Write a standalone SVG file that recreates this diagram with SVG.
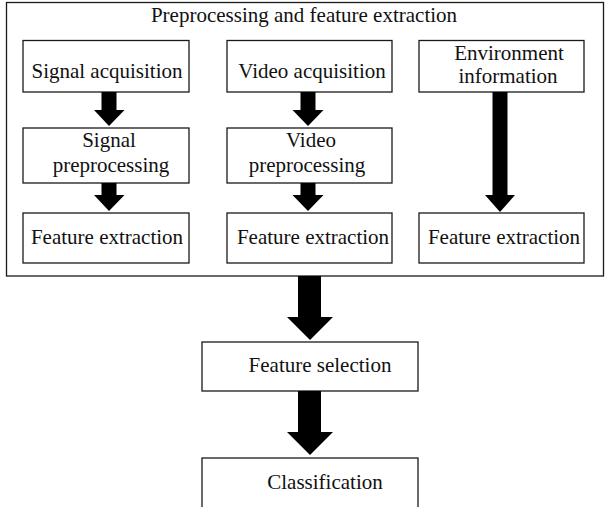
<svg xmlns="http://www.w3.org/2000/svg" width="606" height="507" viewBox="0 0 606 507">
<style>
.box{fill:#fff;stroke:#1a1a1a;stroke-width:1.3}
.t{font-family:"Liberation Serif","Times New Roman",serif;font-size:21px;fill:#111;text-anchor:middle}
.arr{fill:#000}
</style>
<rect width="606" height="507" fill="#fff"/>
<g id="group-preprocessing">
<rect class="box" x="6.5" y="2.5" width="597" height="273.5"/>
<text class="t" x="304" y="22">Preprocessing and feature extraction</text>
</g>
<g id="signal-acquisition"><rect class="box" x="23" y="40.5" width="166" height="51.5"/><text class="t" x="107" y="78">Signal acquisition</text></g>
<g id="video-acquisition"><rect class="box" x="227" y="40.5" width="165" height="51.5"/><text class="t" x="312" y="78">Video acquisition</text></g>
<g id="environment-information"><rect class="box" x="419" y="40.5" width="165" height="51.5"/><text class="t" x="509" y="60">Environment</text><text class="t" x="508" y="83">information</text></g>
<g id="signal-preprocessing"><rect class="box" x="23" y="128" width="166" height="55"/><text class="t" x="109" y="147">Signal</text><text class="t" x="111" y="172">preprocessing</text></g>
<g id="video-preprocessing"><rect class="box" x="227" y="128" width="165" height="55"/><text class="t" x="311" y="147">Video</text><text class="t" x="307" y="172">preprocessing</text></g>
<g id="feature-extraction-1"><rect class="box" x="23" y="213" width="166" height="50"/><text class="t" x="107" y="244">Feature extraction</text></g>
<g id="feature-extraction-2"><rect class="box" x="227" y="213" width="165" height="50"/><text class="t" x="313" y="244">Feature extraction</text></g>
<g id="feature-extraction-3"><rect class="box" x="419" y="213" width="165" height="50"/><text class="t" x="504" y="244">Feature extraction</text></g>
<g id="feature-selection"><rect class="box" x="202" y="342" width="216" height="49"/><text class="t" x="320" y="372">Feature selection</text></g>
<g id="classification"><rect class="box" x="202" y="458" width="216" height="60"/><text class="t" x="325" y="489">Classification</text></g>
<g id="connectors">
<polygon class="arr" points="101.5,92 116.5,92 116.5,110 124.5,110 109,126 94,110 101.5,110"/>
<polygon class="arr" points="101.5,183 116.5,183 116.5,195 124.5,195 109,211 94,195 101.5,195"/>
<polygon class="arr" points="300.5,92 315.5,92 315.5,110 323.5,110 308,126 292.5,110 300.5,110"/>
<polygon class="arr" points="300.5,183 315.5,183 315.5,195 323.5,195 308,211 292.5,195 300.5,195"/>
<polygon class="arr" points="492.5,92 507.5,92 507.5,195 515,195 500,212 485,195 492.5,195"/>
<polygon class="arr" points="298,276 321,276 321,317 333,317 310,340 287,317 298,317"/>
<polygon class="arr" points="298,391 321,391 321,432 333,432 310,455 287,432 298,432"/>
</g>
</svg>
